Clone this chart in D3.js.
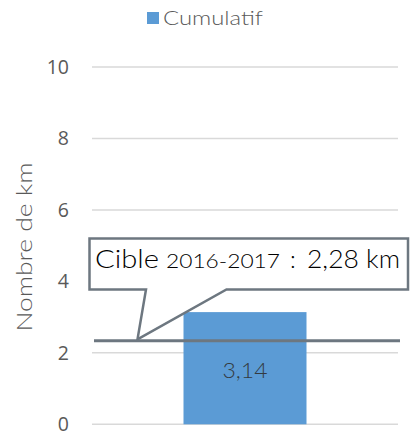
<!DOCTYPE html>
<html><head><meta charset="utf-8">
<script src="https://cdn.jsdelivr.net/npm/d3@7"></script>
<style>body{margin:0;background:#fff}svg{display:block}</style>
</head><body>
<script>
const categories = ["Cumulatif"];
const values = [3.14];
const valueLabels = ["3,14"];
const yTicks = [0, 2, 4, 6, 8, 10];
const targetValue = 2.28;
const targetTextParts = ["Cible", "2016-2017", ":", "2,28 km"];
const seriesName = "Cumulatif";
const yTitle = "Nombre de km";

const W = 417, H = 433;
const svg = d3.select("body").append("svg").attr("width", W).attr("height", H);
const x0 = 92, x1 = 398;
const y = d3.scaleLinear().domain([0, 10]).range([424.3, 67]);
const x = d3.scaleBand().domain(categories).range([x0, x1]).paddingInner(0.6).paddingOuter(0.3);
const GOTHIC = "Lato, sans-serif";

// gridlines
svg.append("g").selectAll("line").data(yTicks).join("line")
  .attr("x1", x0).attr("x2", x1).attr("y1", d => y(d)).attr("y2", d => y(d))
  .attr("stroke", "#d9d9d9").attr("stroke-width", 1.5);

// y axis labels
const yAxis = d3.axisLeft(y).tickValues(yTicks).tickSize(0).tickPadding(0).tickFormat(d3.format("d"));
const ga = svg.append("g").attr("transform", "translate(69,0)").call(yAxis);
ga.select(".domain").remove();
ga.selectAll("text").attr("font-family", "'Open Sans', sans-serif").attr("font-size", 19.5).attr("fill", "#595959");

// y title
svg.append("text").attr("transform", "translate(32,247) rotate(-90)")
  .attr("text-anchor", "middle").attr("font-family", GOTHIC).attr("font-weight", 300).attr("font-size", 22)
  .attr("fill", "#595959").attr("textLength", 169).attr("lengthAdjust", "spacingAndGlyphs").text(yTitle);

// bars
const bw = 123;
svg.append("g").selectAll("rect").data(values).join("rect")
  .attr("x", (d, i) => x(categories[i]) + x.bandwidth() / 2 - bw / 2)
  .attr("width", bw)
  .attr("y", d => y(d)).attr("height", d => y(0) - y(d))
  .attr("fill", "#5b9bd5");

// bar labels
svg.append("g").selectAll("text").data(values).join("text")
  .attr("x", (d, i) => x(categories[i]) + x.bandwidth() / 2 - 22.5)
  .attr("y", 378)
  .attr("font-family", GOTHIC).attr("font-weight", 300).attr("font-size", 22).attr("fill", "#333a40")
  .attr("textLength", 45).attr("lengthAdjust", "spacingAndGlyphs")
  .text((d, i) => valueLabels[i]);

// target line
const ty = y(targetValue) - 2;
svg.append("line").attr("x1", 94).attr("x2", 400).attr("y1", ty).attr("y2", ty)
  .attr("stroke", "#6d7780").attr("stroke-width", 3);

// callout
const bx = 89.5, btop = 238.5, bright = 408, bbot = 289.5;
const px = 137.5, py = ty - 1.5;
const path = `M${bx},${btop} L${bright},${btop} L${bright},${bbot} L226.5,${bbot} L${px},${py} L146,${bbot} L${bx},${bbot} Z`;
svg.append("path").attr("d", path).attr("fill", "#fff").attr("stroke", "#6d7780").attr("stroke-width", 2.5)
  .attr("stroke-linejoin", "miter");
const tt = svg.append("text").attr("y", 268).attr("fill", "#000").attr("font-family", GOTHIC).attr("font-weight", 300);
tt.append("tspan").attr("x", 95).attr("font-size", 25).attr("textLength", 64).attr("lengthAdjust", "spacingAndGlyphs").text(targetTextParts[0]);
tt.append("tspan").attr("x", 166).attr("font-size", 20).attr("textLength", 114).attr("lengthAdjust", "spacingAndGlyphs").text(targetTextParts[1]);
tt.append("tspan").attr("x", 290).attr("font-size", 24).text(targetTextParts[2]);
tt.append("tspan").attr("x", 307).attr("font-size", 25).attr("textLength", 93).attr("lengthAdjust", "spacingAndGlyphs").text(targetTextParts[3]);

// legend
svg.append("rect").attr("x", 147).attr("y", 12).attr("width", 12).attr("height", 12).attr("fill", "#5b9bd5");
svg.append("text").attr("x", 163).attr("y", 25).attr("font-family", GOTHIC).attr("font-weight", 300).attr("font-size", 20)
  .attr("fill", "#595959").attr("textLength", 100).attr("lengthAdjust", "spacingAndGlyphs").text(seriesName);
</script>
</body></html>
